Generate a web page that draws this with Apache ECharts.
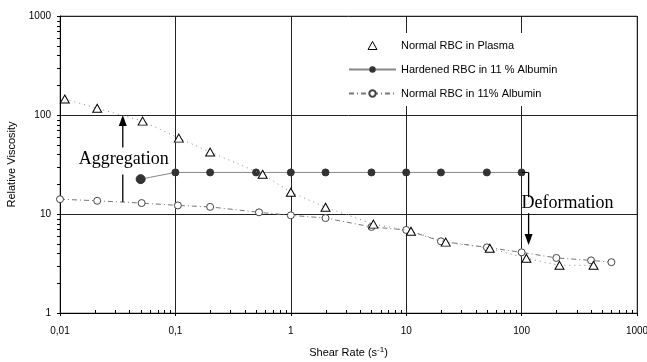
<!DOCTYPE html>
<html><head><meta charset="utf-8">
<script src="https://cdn.jsdelivr.net/npm/echarts@6/dist/echarts.min.js"></script>
<style>html,body{margin:0;padding:0;background:#fff}#c{width:647px;height:362px}</style>
</head><body><div id="c"></div>
<script>
// Normal RBC in Plasma (triangles)
const plasmaX = [0.011,0.021,0.052,0.107,0.2,0.57,1.0,2.0,5.2,11,22,53,110,213,420];
const plasmaY = [145,117,86.7,58.4,42.2,25.2,16.6,11.7,7.9,6.7,5.2,4.5,3.57,3.03,3.03];
// Hardened RBC in 11 % Albumin (filled circles)
const hardX = [0.05,0.1,0.2,0.5,1,2,5,10,20,50,100];
const hardY = [22.5,26.3,26.3,26.3,26.3,26.3,26.3,26.3,26.3,26.3,26.3];
// Normal RBC in 11% Albumin (open circles)
const albX = [0.01,0.021,0.051,0.105,0.2,0.53,1.0,2.0,5.0,10,20,50,100,200,400,600];
const albY = [14.1,13.6,12.9,12.2,11.8,10.4,9.7,9.1,7.4,6.9,5.3,4.6,4.1,3.6,3.4,3.26];
const seriesNames = ['Normal RBC in Plasma','Hardened RBC in 11 % Albumin','Normal RBC in 11% Albumin'];
const xDecades = [0.01,0.1,1,10,100];
const yDecades = [1,10,100];
const minorSteps = [2,3,4,5,6,7,8,9];
// annotations
const aggregation = {label:'Aggregation', x:0.035, from:13.2, gapLow:25, gapHigh:47, to:100, textY:35.5};
const deformation = {label:'Deformation', x:115, from:26.3, gapHigh:14.8, gapLow:10.2, to:4.85, textY:12.9, textX:100};

const zip = (a,b)=>a.map((v,i)=>[v,b[i]]);
const chart = echarts.init(document.getElementById('c'), null, {renderer:'canvas'});
const FONT = 'Liberation Sans';
const option = {
  animation:false,
  backgroundColor:'#fff',
  grid:{left:60, right:10, top:16, bottom:49, show:true, borderColor:'#888', borderWidth:1, containLabel:false, outerBoundsMode:'none'},
  legend:{
    orient:'vertical', left:340, top:33, padding:[7,14,7,8],
    backgroundColor:'#fff', itemWidth:47, itemHeight:8, itemGap:13,
    textStyle:{fontFamily:FONT, fontSize:11, color:'#000'},
    data:[
      {name:seriesNames[0], icon:'path://M5,0 L10,9 L0,9 Z', itemStyle:{color:'#fff', borderColor:'#000', borderWidth:1}},
      {name:seriesNames[1]},
      {name:seriesNames[2]}
    ]
  },
  xAxis:{
    type:'log', logBase:10, min:0.01, max:1000,
    name:'Shear Rate (s{sup|-1})', nameLocation:'middle', nameGap:33,
    nameTextStyle:{fontFamily:FONT, fontSize:11, color:'#000', rich:{sup:{fontSize:8, verticalAlign:'top', padding:[0,0,6,0], fontFamily:FONT}}},
    axisLine:{lineStyle:{color:'#000', width:1}},
    axisTick:{show:true, length:3, inside:false, lineStyle:{color:'#000'}},
    axisLabel:{fontFamily:FONT, fontSize:10, color:'#000', margin:13, formatter:v=>String(v).replace('.',',')},
    splitLine:{show:true, lineStyle:{color:'#222', width:1}}
  },
  yAxis:{
    type:'log', logBase:10, min:1, max:1000,
    name:'Relative Viscosity', nameLocation:'middle', nameGap:41,
    nameTextStyle:{fontFamily:FONT, fontSize:11, color:'#000'},
    axisLine:{lineStyle:{color:'#000', width:1}},
    axisTick:{show:true, length:3, lineStyle:{color:'#000'}},
    axisLabel:{fontFamily:FONT, fontSize:10, color:'#000', margin:9, formatter:v=>String(v)},
    splitLine:{show:true, lineStyle:{color:'#222', width:1}}
  },
  series:[
    {name:seriesNames[0], type:'line', data:zip(plasmaX,plasmaY), symbol:'triangle', symbolSize:[9,8],
     itemStyle:{color:'#fff', borderColor:'#000', borderWidth:1},
     lineStyle:{color:'#888', width:1, type:[1,4]}, z:3},
    {name:seriesNames[1], type:'line', data:zip(hardX,hardY).map((p,i)=>({value:p, symbolSize:i===0?9:7})), symbol:'circle', symbolSize:7,
     itemStyle:{color:'#333', borderColor:'#333'},
     lineStyle:{color:'#888', width:1, type:'solid'}, z:2},
    {name:seriesNames[2], type:'line', data:zip(albX,albY), symbol:'circle', symbolSize:7,
     itemStyle:{color:'#fff', borderColor:'#444', borderWidth:1},
     lineStyle:{color:'#777', width:1, type:[5,3,1,3]}, z:2}
  ]
};
chart.setOption(option);

function px(x,y){return chart.convertToPixel({gridIndex:0},[x,y]);}
function arrowGraphics(a, up){
  const p0 = px(a.x, a.from), p1 = px(a.x, up ? a.gapLow : a.gapHigh);
  const p2 = px(a.x, up ? a.gapHigh : a.gapLow), p3 = px(a.x, a.to);
  const dir = up ? 1 : -1;
  const head = [[p3[0], p3[1]], [p3[0]-4, p3[1]+dir*11], [p3[0]+4, p3[1]+dir*11]];
  return [
    {type:'line', shape:{x1:p0[0],y1:p0[1],x2:p1[0],y2:p1[1]}, style:{stroke:'#000', lineWidth:1.3}, z:10},
    {type:'line', shape:{x1:p2[0],y1:p2[1],x2:p3[0],y2:p3[1]+dir*10}, style:{stroke:'#000', lineWidth:1.3}, z:10},
    {type:'polygon', shape:{points:head}, style:{fill:'#000'}, z:10}
  ];
}
const g = [];
// minor ticks on log axes (2..9 within each decade)
xDecades.forEach(d=>minorSteps.forEach(s=>{
  const p = px(d*s, 1);
  g.push({type:'line', shape:{x1:Math.round(p[0])+0.5,y1:p[1],x2:Math.round(p[0])+0.5,y2:p[1]-3}, style:{stroke:'#000', lineWidth:1}, z:5});
}));
yDecades.forEach(d=>minorSteps.forEach(s=>{
  const p = px(0.01, d*s);
  g.push({type:'line', shape:{x1:p[0],y1:Math.round(p[1])+0.5,x2:p[0]-3,y2:Math.round(p[1])+0.5}, style:{stroke:'#000', lineWidth:1}, z:5});
}));
g.push(...arrowGraphics(aggregation, true));
g.push(...arrowGraphics(deformation, false));
const tA = px(aggregation.x, aggregation.textY);
g.push({type:'text', x:tA[0]+1, y:tA[1], style:{text:aggregation.label, font:'18px "Liberation Serif"', fill:'#000', align:'center', verticalAlign:'middle'}, z:11});
const tD = px(deformation.textX, deformation.textY);
g.push({type:'text', x:tD[0], y:tD[1], style:{text:deformation.label, font:'18px "Liberation Serif"', fill:'#000', align:'left', verticalAlign:'middle'}, z:11});
const hl = px(hardX[hardX.length-1], hardY[hardY.length-1]), ds = px(deformation.x, deformation.from);
g.push({type:'line', shape:{x1:hl[0],y1:hl[1],x2:ds[0],y2:ds[1]}, style:{stroke:'#000', lineWidth:1}, z:10});
chart.setOption({graphic:g});
</script></body></html>
